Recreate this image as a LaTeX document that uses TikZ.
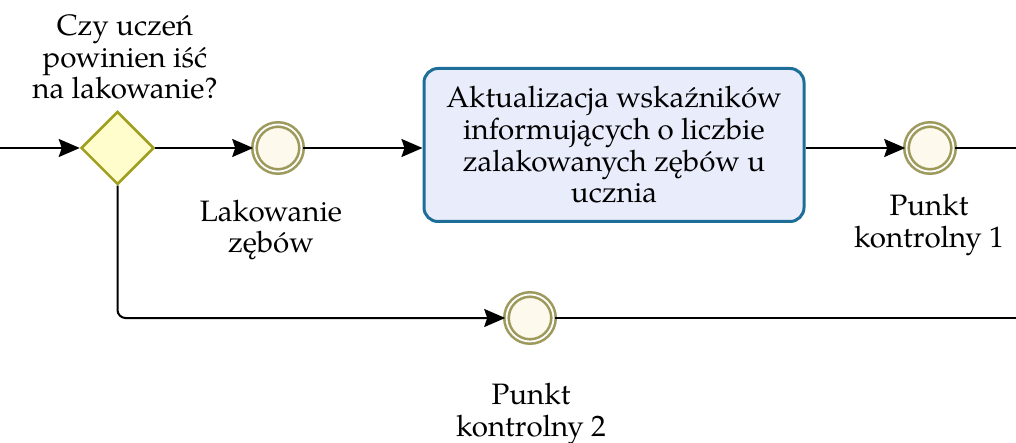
\documentclass[tikz,border=0pt]{standalone}
\usepackage{fontspec}
\setmainfont{TeX Gyre Pagella}
\usetikzlibrary{shapes.geometric,arrows.meta}
\definecolor{gwfill}{HTML}{FFFDCC}
\definecolor{gwdraw}{HTML}{A0A020}
\definecolor{evfill}{HTML}{FDF9EC}
\definecolor{evdraw}{HTML}{9E9A5C}
\definecolor{taskfill}{HTML}{E9EDFB}
\definecolor{taskdraw}{HTML}{1D6F99}
\tikzset{
  txt/.style={font=\fontsize{29.5}{31.7}\selectfont, align=center, inner sep=0pt},
  gw/.style={diamond, aspect=1, fill=gwfill, draw=gwdraw, line width=2.5pt, minimum width=73pt, minimum height=73pt, inner sep=0pt},
  ev/.style={circle, fill=evfill, draw=evdraw, line width=2.6pt, double=white, double distance=1.8pt, minimum size=47pt, inner sep=0pt},
  task/.style={rectangle, rounded corners=14pt, fill=taskfill, draw=taskdraw, line width=3pt, minimum width=380pt, minimum height=153pt, txt},
  flow/.style={line width=2pt, -{Stealth[length=21pt,width=18pt,inset=3pt]}},
  plain/.style={line width=2pt}
}
\begin{document}
\begin{tikzpicture}[x=1pt,y=-1pt]
\useasboundingbox (0,0) rectangle (1016,443);
\node[gw] (gw) at (117.5,148) {};
\node[ev] (ev1) at (278,148) {};
\node[task] (task) at (614,145) {Aktualizacja wskaźników\\informujących o liczbie\\zalakowanych zębów u\\ucznia};
\node[ev] (ev2) at (930,148) {};
\node[ev] (ev3) at (530,318) {};
\coordinate (in) at (0,148);
\coordinate (out1) at (1016,148);
\coordinate (out2) at (1016,318);
\node[txt] (l1) at (125,57) {Czy uczeń\\powinien iść\\na lakowanie?};
\node[txt] (l2) at (271,230) {Lakowanie\\zębów};
\node[txt] (l3) at (929,225) {Punkt\\kontrolny 1};
\node[txt] (l4) at (531,414) {Punkt\\kontrolny 2};
\draw[flow] (in) -- (gw.west);
\draw[flow] (gw.east) -- (ev1.west);
\draw[flow] (ev1.east) -- (ev1.east -| task.west);
\draw[flow] (task.east |- ev2.west) -- (ev2.west);
\draw[plain] (ev2.east) -- (out1);
\draw[flow, rounded corners=8pt] (gw.south) |- (ev3.west);
\draw[plain] (ev3.east) -- (out2);
\end{tikzpicture}
\end{document}
